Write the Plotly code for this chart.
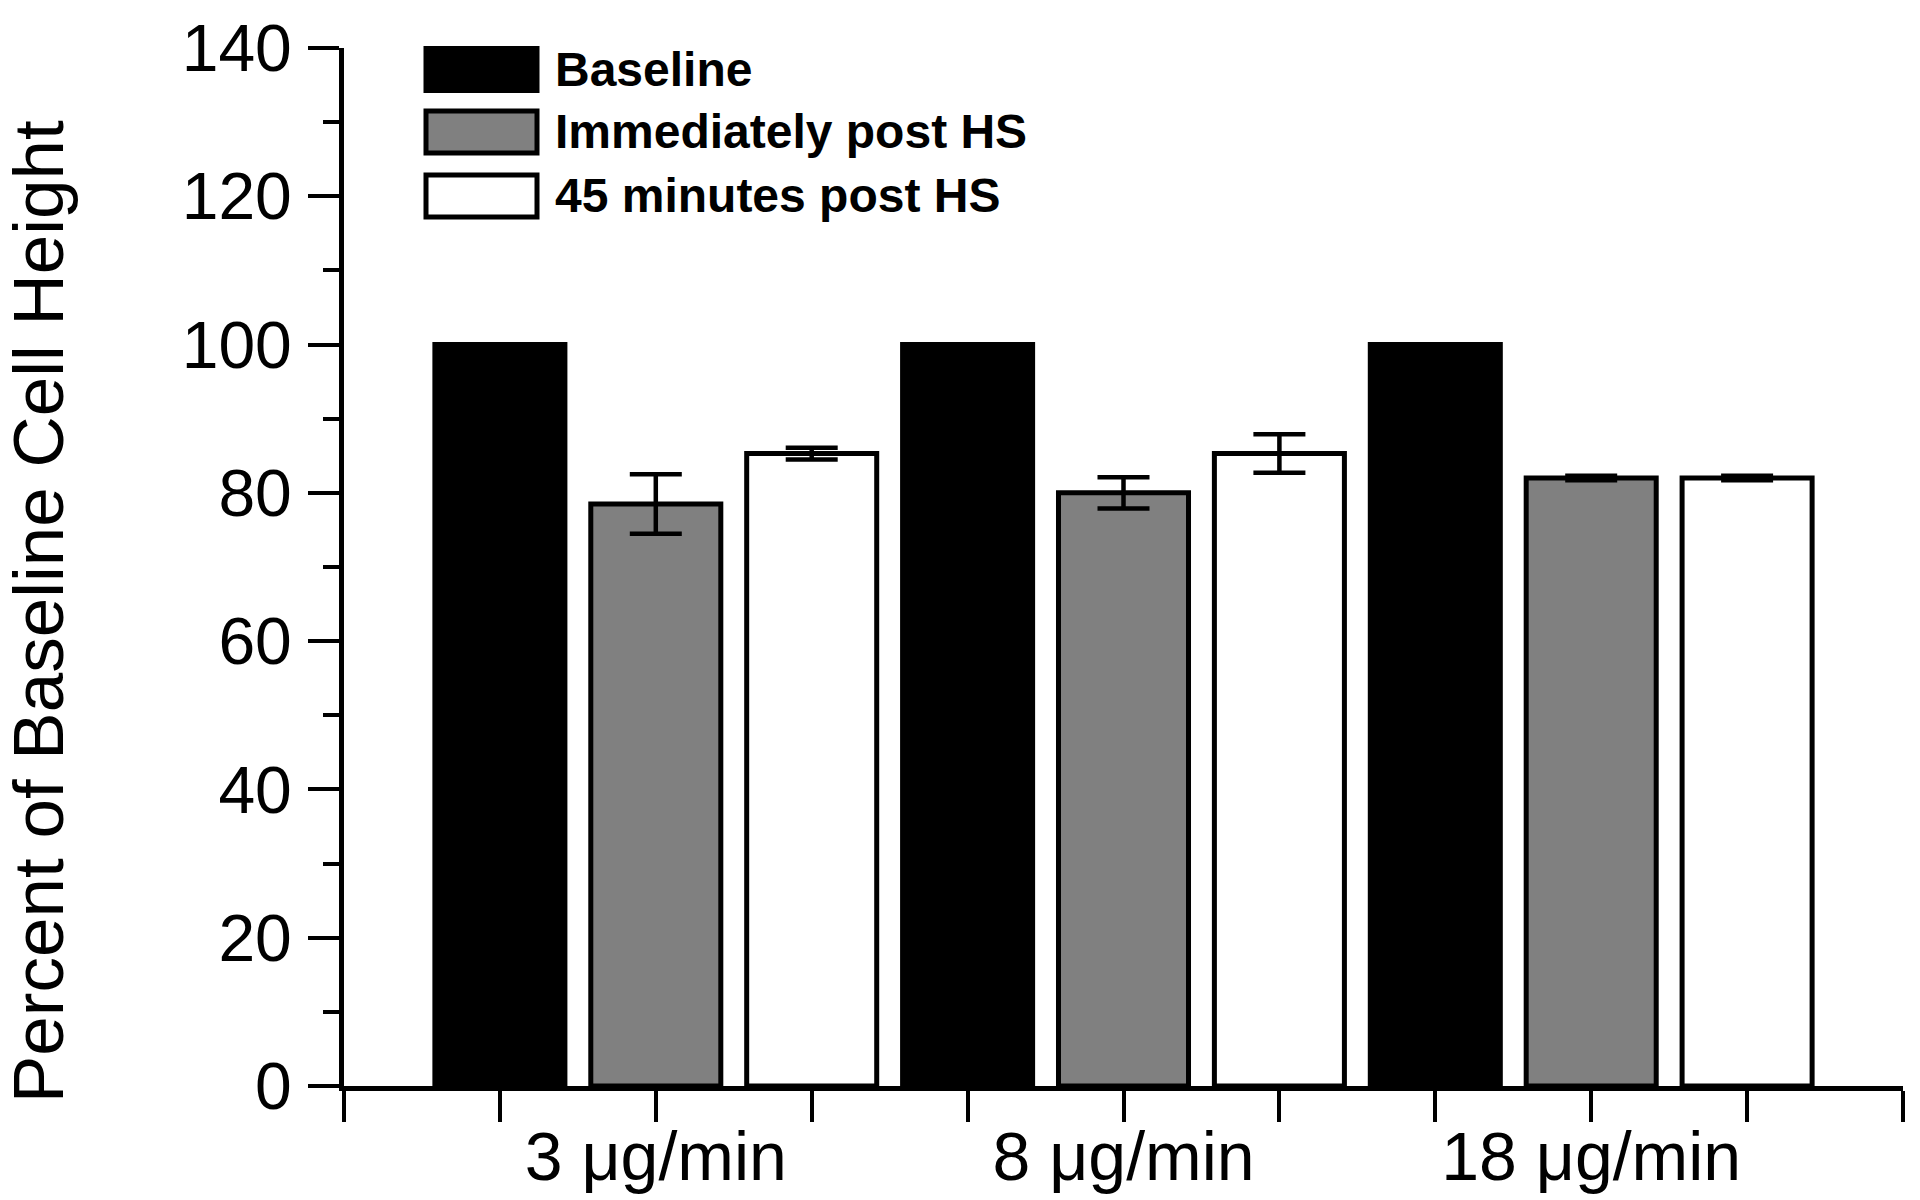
import plotly.graph_objects as go

# ---- data ----
categories = ["3 μg/min", "8 μg/min", "18 μg/min"]
series_names = ["Baseline", "Immediately post HS", "45 minutes post HS"]
baseline = [100, 100, 100]
immediate = [78.5, 80.0, 82.0]
immediate_err = [4.0, 2.1, 0.3]
post45 = [85.3, 85.3, 82.0]
post45_err = [0.8, 2.6, 0.3]
y_ticks = [0, 20, 40, 60, 80, 100, 120, 140]

# ---- layout constants (page pixels) ----
W, H = 1920, 1200
L, R, T, B = 344, 1903, 48, 1086   # plot area edges
FONT = "Liberation Sans, Arial, sans-serif"

group_pos = [2 + 3 * i for i in range(len(categories))]
fills = ["#000000", "#808080", "#ffffff"]
values = [baseline, immediate, post45]
errors = [None, immediate_err, post45_err]

fig = go.Figure()
for name, vals, err, col in zip(series_names, values, errors, fills):
    kw = {}
    if err is not None:
        kw["error_y"] = dict(type="data", array=err, visible=True, color="black",
                             thickness=4.5, width=26)
    fig.add_trace(go.Bar(
        x=group_pos, y=vals, name=name,
        marker=dict(color=col, line=dict(color="black", width=5)),
        showlegend=False, hoverinfo="skip", **kw))

tickvals = list(range(0, 11))
ticktext = [""] * len(tickvals)
for p, c in zip(group_pos, categories):
    ticktext[p] = c

def px2paper_x(px):
    return (px - L) / (R - L)

def px2paper_y(py):
    return (B - py) / (B - T)

shapes = []
annotations = []
row_centers = [69.5, 132, 196]
for name, col, yc in zip(series_names, fills, row_centers):
    shapes.append(dict(type="rect", xref="paper", yref="paper",
                       x0=px2paper_x(426), x1=px2paper_x(537),
                       y0=px2paper_y(yc + 21), y1=px2paper_y(yc - 21),
                       fillcolor=col, line=dict(color="black", width=5)))
    annotations.append(dict(text="<b>%s</b>" % name, xref="paper", yref="paper",
                            x=px2paper_x(553), y=px2paper_y(yc),
                            xanchor="left", yanchor="middle", showarrow=False,
                            font=dict(family=FONT, size=48, color="black")))

annotations.append(dict(text="Percent of Baseline Cell Height", textangle=-90,
                        xref="paper", yref="paper",
                        x=px2paper_x(38), y=px2paper_y(612),
                        xanchor="center", yanchor="middle", showarrow=False,
                        font=dict(family=FONT, size=71, color="black")))

fig.update_layout(
    width=W, height=H,
    margin=dict(l=L, r=W - R, t=T, b=H - B, pad=0),
    paper_bgcolor="white", plot_bgcolor="white",
    barmode="group", bargap=0, bargroupgap=0.166,
    shapes=shapes, annotations=annotations,
    font=dict(family=FONT, color="black"),
    xaxis=dict(range=[0, 10], tickvals=tickvals, ticktext=ticktext,
               ticks="outside", ticklen=31, tickwidth=4, tickcolor="black",
               showline=True, linewidth=5, linecolor="black",
               showgrid=False, zeroline=False, automargin=False,
               ticklabelstandoff=-24,
               tickfont=dict(family=FONT, size=68, color="black")),
    yaxis=dict(range=[0, 140], tickvals=y_ticks,
               ticks="outside", ticklen=31, tickwidth=4, tickcolor="black",
               minor=dict(dtick=10, ticks="outside", ticklen=16, tickwidth=4,
                          tickcolor="black", showgrid=False),
               showline=True, linewidth=5, linecolor="black",
               showgrid=False, zeroline=False, automargin=False,
               ticklabelstandoff=3,
               tickfont=dict(family=FONT, size=66, color="black")),
)

fig.write_html("out.html",
               config={"displayModeBar": False},
               post_script="document.body.style.margin='0';document.body.style.overflow='hidden';")
